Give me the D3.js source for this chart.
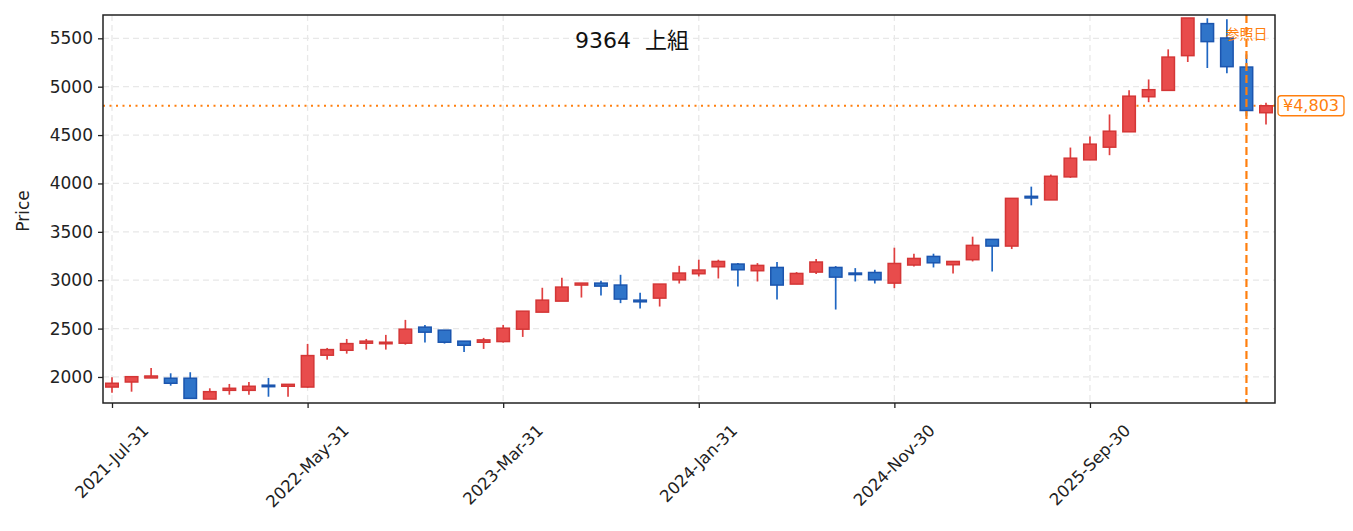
<!DOCTYPE html>
<html>
<head>
<meta charset="utf-8">
<script src="https://cdn.jsdelivr.net/npm/d3@7"></script>
<style>
  body { margin: 0; background: #fff; }
  text { font-family: "DejaVu Sans", "Noto Sans CJK JP", sans-serif; }
</style>
</head>
<body>
<svg width="1353" height="531"></svg>
<script>
// monthly candles, 2021-Jul .. 2026-Jun
const startMonth = new Date(2021, 6, 1);
const opens  = [1896,1948,1990,1987,1987,1772,1862,1862,1915,1904,
                1896,2225,2276,2349,2349,2349,2515,2484,2370,2359,
                2366,2494,2670,2784,2950,2970,2950,2794,2815,3004,
                3067,3139,3167,3098,3132,2960,3084,3132,3074,3080,
                2970,3157,3246,3160,3212,3422,3353,3867,3830,4068,
                4244,4375,4534,4896,4962,5321,5652,5503,5203,4731];
const highs  = [1997,2005,2093,2038,2049,1883,1928,1948,1990,1924,
                2342,2300,2393,2393,2435,2590,2538,2484,2370,2404,
                2538,2680,2922,3025,2970,2994,3056,2870,2960,3149,
                3212,3212,3177,3177,3188,3084,3219,3146,3125,3108,
                3336,3274,3274,3194,3450,3422,3846,3967,4092,4371,
                4485,4713,4962,5075,5386,5710,5707,5697,5334,4834];
const lows   = [1837,1848,1990,1910,1779,1772,1817,1817,1796,1796,
                1889,2179,2241,2283,2283,2334,2355,2345,2259,2290,
                2355,2414,2670,2784,2821,2842,2763,2707,2728,2966,
                3039,3018,2935,2987,2800,2960,3063,2697,2987,2966,
                2918,3142,3132,3070,3194,3090,3322,3774,3830,4058,
                4244,4292,4534,4840,4962,5255,5193,5138,4695,4610];
const closes = [1935,2003,2010,1935,1779,1848,1883,1904,1905,1924,
                2221,2283,2345,2370,2359,2494,2463,2359,2328,2383,
                2504,2680,2794,2929,2970,2939,2805,2777,2960,3074,
                3105,3194,3108,3153,2950,3070,3188,3032,3067,3004,
                3173,3225,3180,3194,3360,3353,3846,3850,4074,4261,
                4406,4540,4902,4969,5306,5710,5466,5207,4754,4803];
const tickIdx = [0, 10, 20, 30, 40, 50];
const yTicks = [2000, 2500, 3000, 3500, 4000, 4500, 5000, 5500];
const refIdx = 58;
const lastPrice = 4803;
const title = "9364  上組";

const fmtDate = d3.timeFormat("%Y-%b-%d");
const months = opens.map((o, i) => d3.timeDay.offset(d3.timeMonth.offset(startMonth, i + 1), -1));
const data = opens.map((o, i) => ({i: i, open: o, high: highs[i], low: lows[i], close: closes[i]}));

const svg = d3.select("svg");
const margin = {top: 15, left: 103, right: 78, bottom: 128},
    width = 1353 - margin.left - margin.right,
    height = 531 - margin.top - margin.bottom;

const x = d3.scaleLinear().domain([-0.46, data.length - 0.54]).range([0, width]);
const y = d3.scaleLinear().domain([1731, 5741]).range([height, 0]);

const g = svg.append("g").attr("transform", "translate(" + margin.left + "," + margin.top + ")");

// grid
g.append("g").selectAll("line").data(yTicks).enter().append("line")
    .attr("x1", 0).attr("x2", width)
    .attr("y1", d => y(d)).attr("y2", d => y(d))
    .attr("stroke", "#e8e8e8").attr("stroke-width", 1.3).attr("stroke-dasharray", "6,4");
g.append("g").selectAll("line").data(tickIdx).enter().append("line")
    .attr("x1", d => x(d)).attr("x2", d => x(d))
    .attr("y1", 0).attr("y2", height)
    .attr("stroke", "#e8e8e8").attr("stroke-width", 1.3).attr("stroke-dasharray", "6,4");

// last price line
g.append("line")
    .attr("x1", 0).attr("x2", width)
    .attr("y1", y(lastPrice)).attr("y2", y(lastPrice))
    .attr("stroke", "#ff7f0e").attr("stroke-width", 2).attr("stroke-dasharray", "2,4.5");

// candles
const bw = 12.5;
const up = d => d.close >= d.open;
const c = g.append("g").selectAll("g").data(data).enter().append("g");
c.append("line")
    .attr("x1", d => x(d.i)).attr("x2", d => x(d.i))
    .attr("y1", d => y(d.high)).attr("y2", d => y(d.low))
    .attr("stroke", d => up(d) ? "#e04040" : "#1f66c2").attr("stroke-width", 1.7);
c.append("rect")
    .attr("x", d => x(d.i) - bw / 2)
    .attr("width", bw)
    .attr("y", d => y(Math.max(d.open, d.close)))
    .attr("height", d => Math.max(1.5, Math.abs(y(d.open) - y(d.close))))
    .attr("fill", d => up(d) ? "#e84c4c" : "#2f74c9")
    .attr("stroke", d => up(d) ? "#d43636" : "#1b55ae")
    .attr("stroke-width", 1.5);

// reference date line
g.append("line")
    .attr("x1", x(refIdx)).attr("x2", x(refIdx))
    .attr("y1", 0).attr("y2", height)
    .attr("stroke", "#ff7f0e").attr("stroke-width", 2.2).attr("stroke-dasharray", "8,4");
g.append("text")
    .attr("x", x(refIdx)).attr("y", 24)
    .attr("text-anchor", "middle")
    .attr("fill", "#ff7f0e").attr("font-size", 14)
    .text("参照日");

// title
g.append("text")
    .attr("x", 529).attr("y", 33)
    .attr("text-anchor", "middle")
    .style("white-space", "pre")
    .attr("font-size", 22).attr("fill", "#111")
    .text(title);

// axes
const yaxis = g.append("g")
    .call(d3.axisLeft(y).tickValues(yTicks).tickSize(5).tickPadding(5).tickFormat(d3.format("d")));
yaxis.select(".domain").remove();
yaxis.selectAll("line").attr("stroke", "#222").attr("stroke-width", 1.3);
yaxis.selectAll("text").attr("font-size", 17).attr("fill", "#222");

const xaxis = g.append("g")
    .attr("transform", "translate(0," + height + ")")
    .call(d3.axisBottom(x).tickValues(tickIdx).tickSize(5).tickFormat(""));
xaxis.select(".domain").remove();
xaxis.selectAll("line").attr("stroke", "#222").attr("stroke-width", 1.3);

// rotated date labels, centered under tick
tickIdx.forEach(i => {
    const t = g.append("text")
        .attr("text-anchor", "middle")
        .attr("dominant-baseline", "central")
        .attr("font-size", 16.5).attr("fill", "#222")
        .text(fmtDate(months[i]));
    const w = t.node().getComputedTextLength();
    const cy = height + 19 + (w + 16) / (2 * Math.SQRT2);
    t.attr("transform", "translate(" + x(i) + "," + cy + ") rotate(-45)");
});

// frame
g.append("rect")
    .attr("width", width).attr("height", height)
    .attr("fill", "none").attr("stroke", "#222").attr("stroke-width", 1.5);

// y label
svg.append("text")
    .attr("transform", "translate(29," + (margin.top + 196) + ") rotate(-90)")
    .attr("text-anchor", "middle")
    .attr("font-size", 17).attr("fill", "#222")
    .text("Price");

// price tag
const tag = svg.append("g").attr("transform", "translate(" + (margin.left + width + 3) + "," + (margin.top + y(lastPrice)) + ")");
const tagText = tag.append("text")
    .attr("x", 5).attr("y", 0)
    .attr("dominant-baseline", "central")
    .attr("font-size", 16).attr("fill", "#ff7f0e")
    .text("¥" + d3.format(",")(lastPrice));
const tw = tagText.node().getComputedTextLength();
tag.insert("rect", "text")
    .attr("x", 0).attr("y", -10).attr("width", tw + 10).attr("height", 20)
    .attr("rx", 3)
    .attr("fill", "#fff").attr("stroke", "#ff7f0e").attr("stroke-width", 1.3);
</script>
</body>
</html>
